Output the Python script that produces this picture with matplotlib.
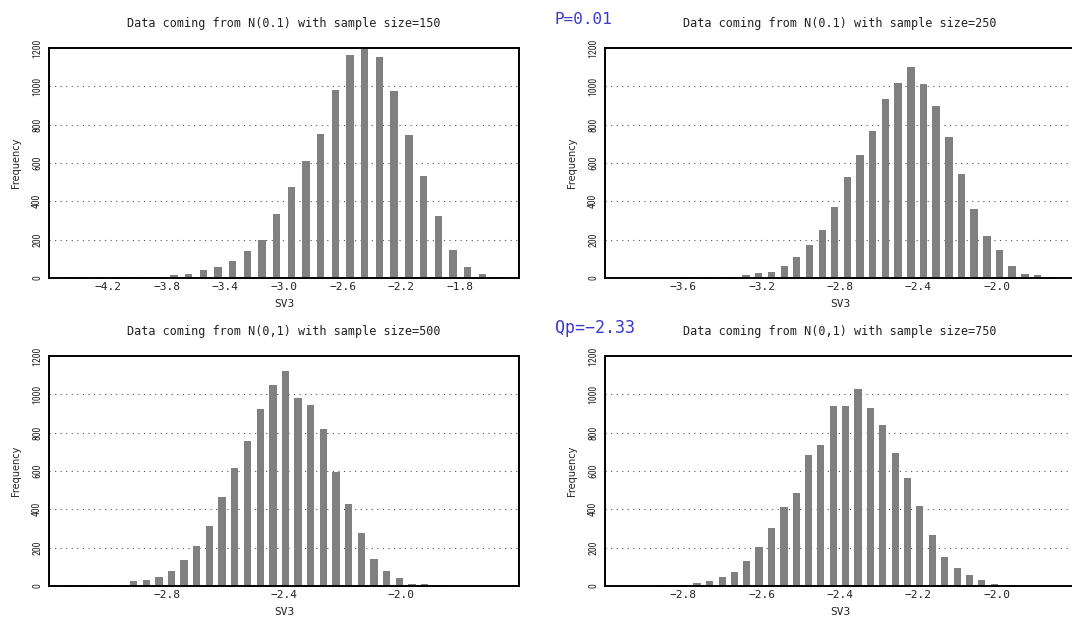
import matplotlib
matplotlib.use("Agg")
import numpy as np
from matplotlib import pyplot as plt
from matplotlib import font_manager

# bin centres and frequencies
centers_150 = [-4.45, -4.35, -4.25, -4.15, -4.05, -3.95, -3.85, -3.75, -3.65, -3.55,
               -3.45, -3.35, -3.25, -3.15, -3.05, -2.95, -2.85, -2.75, -2.65, -2.55,
               -2.45, -2.35, -2.25, -2.15, -2.05, -1.95, -1.85, -1.75, -1.65, -1.55]
counts_150 = [5, 5, 5, 5, 5, 5, 5, 15, 20, 42, 57, 87, 143, 200, 334, 475, 610, 753, 983, 1165,
              1200, 1153, 977, 744, 530, 323, 148, 57, 21, 7]

centers_250 = [-3.603, -3.538, -3.474, -3.409, -3.344, -3.280, -3.215, -3.150, -3.085, -3.021,
               -2.956, -2.891, -2.827, -2.762, -2.697, -2.633, -2.568, -2.503, -2.438, -2.374,
               -2.309, -2.244, -2.180, -2.115, -2.050, -1.986, -1.921, -1.856, -1.791, -1.727]
counts_250 = [5, 5, 5, 5, 5, 16, 24, 33, 61, 111, 170, 252, 372, 525, 640, 769, 934, 1019, 1101, 1014,
              896, 737, 544, 362, 221, 148, 61, 21, 16, 7]

centers_500 = [-3.128, -3.085, -3.042, -2.999, -2.956, -2.912, -2.869, -2.826, -2.783, -2.740,
               -2.697, -2.654, -2.611, -2.568, -2.525, -2.481, -2.438, -2.395, -2.352, -2.309,
               -2.266, -2.223, -2.180, -2.137, -2.094, -2.050, -2.007, -1.964, -1.921, -1.878]
counts_500 = [3, 3, 3, 4, 7, 26, 31, 45, 79, 136, 210, 311, 463, 618, 755, 921, 1048, 1121, 979, 946,
              819, 594, 430, 274, 141, 80, 42, 12, 9, 7]

centers_750 = [-2.891, -2.859, -2.828, -2.796, -2.765, -2.733, -2.701, -2.670, -2.638, -2.607,
               -2.575, -2.543, -2.512, -2.480, -2.449, -2.417, -2.385, -2.354, -2.322, -2.291,
               -2.259, -2.227, -2.196, -2.164, -2.133, -2.101, -2.069, -2.038, -2.006, -1.975]
counts_750 = [2, 3, 4, 6, 17, 26, 45, 73, 129, 206, 302, 412, 486, 683, 737, 940, 940, 1030, 929, 842,
              692, 563, 416, 266, 152, 96, 59, 31, 12, 3]

sizes = [150, 250, 500, 750]
titles = ["Data coming from N(0.1) with sample size=150",
          "Data coming from N(0.1) with sample size=250",
          "Data coming from N(0,1) with sample size=500",
          "Data coming from N(0,1) with sample size=750"]
xlims = [(-4.6, -1.4), (-4.0, -1.6), (-3.2, -1.6), (-3.0, -1.8)]
xticks = [[-4.2, -3.8, -3.4, -3.0, -2.6, -2.2, -1.8],
          [-3.6, -3.2, -2.8, -2.4, -2.0],
          [-2.8, -2.4, -2.0],
          [-2.8, -2.6, -2.4, -2.2, -2.0]]
yticks = [0, 200, 400, 600, 800, 1000, 1200]

# pick a narrow font for the y tick labels if one is installed
names = {f.name for f in font_manager.fontManager.ttflist}
narrow = "DejaVu Sans"
for cand in ["Liberation Sans Narrow", "DejaVu Sans Condensed", "Roboto Condensed"]:
    if cand in names:
        narrow = cand
        break
mono = "DejaVu Sans Mono"

W, H = 1072, 617
fig = plt.figure(figsize=(W / 100, H / 100), dpi=100)

# axes boxes in pixels: left, top, width, height
boxes = [(49, 48, 470, 230), (605, 48, 470, 230),
         (49, 356, 470, 230), (605, 356, 470, 230)]
data = [(centers_150, counts_150), (centers_250, counts_250),
        (centers_500, counts_500), (centers_750, counts_750)]

for k in range(4):
    l, t, w, h = boxes[k]
    ax = fig.add_axes([l / W, 1 - (t + h) / H, w / W, h / H])
    centers, counts = data[k]
    step = np.diff(centers).mean()
    frac = 0.5 if k == 0 else 0.58
    ax.bar(centers, counts, width=step * frac, color="#808080", linewidth=0)

    ax.set_xlim(*xlims[k])
    ax.set_ylim(0, 1200)
    ax.set_xticks(xticks[k])
    ax.set_xticklabels([f"\u2212{abs(v):.1f}" for v in xticks[k]], family=mono, fontsize=8,
                       color="#222222")
    ax.set_yticks(yticks)
    ax.set_yticklabels([str(v) for v in yticks], family=narrow, fontsize=7, rotation=90,
                       va="center", color="#222222")
    ax.tick_params(length=0)
    ax.tick_params(axis="x", pad=3)
    ax.tick_params(axis="y", pad=5)

    ax.set_axisbelow(True)
    for v in yticks[1:-1]:
        ax.axhline(v, color="#555555", linewidth=0.8, linestyle=(0, (1, 4)), zorder=0)

    for sp in ax.spines.values():
        sp.set_linewidth(1.4)
        sp.set_color("black")

    ax.set_ylabel("Frequency", family="DejaVu Sans", fontsize=7, color="#222222")
    ax.yaxis.set_label_coords(-33 / w, 0.5)
    ax.yaxis.label.set_va("center")
    ax.set_xlabel("SV3", family=mono, fontsize=8, color="#222222")
    ax.xaxis.set_label_coords(0.5, -26 / h)
    ax.xaxis.label.set_va("center")

    ax.text(0.5, 1 + 25 / h, titles[k], transform=ax.transAxes, ha="center", va="center",
            family=mono, fontsize=8.5, color="#222222")

fig.text(555 / W, 1 - 19 / H, "P=0.01", family=mono, fontsize=11.5, color="#3a3ac8",
         ha="left", va="center")
fig.text(555 / W, 1 - 328 / H, "Qp=\u22122.33", family=mono, fontsize=12, color="#3a3ac8",
         ha="left", va="center")

fig.savefig("out.png", dpi=100)
